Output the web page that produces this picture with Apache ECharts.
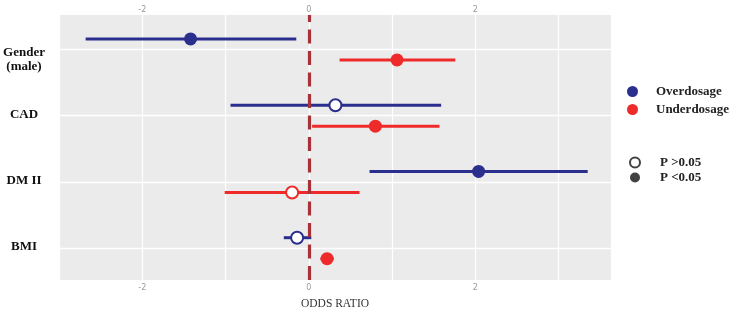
<!DOCTYPE html>
<html>
<head>
<meta charset="utf-8">
<script src="https://cdn.jsdelivr.net/npm/echarts@6/dist/echarts.min.js"></script>
<style>
    html, body { margin: 0; padding: 0; background: #ffffff; }
    #forestPlot { width: 735px; height: 312px; }
</style>
</head>
<body>
<div id="forestPlot"></div>
<script>
//  类别（从下到上）
const categories = ['BMI', 'DM II', 'CAD', 'Gender\n(male)'];
//  Overdosage：估计值、置信区间、是否显著
const overEst = [-0.14, 2.04, 0.32, -1.42];
const overLow = [-0.30, 0.73, -0.94, -2.68];
const overHigh = [0.03, 3.35, 1.59, -0.15];
const overSig = [false, true, false, true];
//  Underdosage
const underEst = [0.22, -0.20, 0.80, 1.06];
const underLow = [0.14, -1.01, 0.04, 0.37];
const underHigh = [0.30, 0.61, 1.57, 1.76];
const underSig = [true, false, true, true];
//  坐标轴刻度标签
const xTicks = [-2, 0, 2];

const blue = '#2A2E8C';
const red = '#EE2A2A';
const serif = '"Liberation Serif", "DejaVu Serif", serif';

function buildData(est, low, high, sig) {
    return est.map(function (v, i) {
        return [low[i], high[i], v, i + 1, sig[i] ? 1 : 0];
    });
}

//  画置信区间和点
function makeRender(color, offset) {
    return function (params, api) {
        const y = api.coord([0, api.value(3)])[1] + offset;
        const x0 = api.coord([api.value(0), 0])[0];
        const x1 = api.coord([api.value(1), 0])[0];
        const cx = api.coord([api.value(2), 0])[0];
        const filled = api.value(4) === 1;
        return {
            type: 'group',
            children: [
                {
                    type: 'line',
                    shape: {x1: x0, y1: y, x2: x1, y2: y},
                    style: {stroke: color, lineWidth: 3}
                },
                {
                    type: 'circle',
                    shape: {cx: cx, cy: y, r: filled ? 6.5 : 6},
                    style: {
                        fill: filled ? color : '#ffffff',
                        stroke: color,
                        lineWidth: filled ? 0 : 2
                    }
                }
            ]
        };
    };
}

const xAxisBase = {
    type: 'value',
    min: -3,
    max: 3.63,
    interval: 1,
    axisLine: {show: false},
    axisTick: {show: false},
    axisLabel: {
        color: '#9a9a9a',
        fontSize: 8,
        fontFamily: 'DejaVu Sans',
        formatter: function (v) {
            return xTicks.indexOf(v) >= 0 ? String(v) : '';
        }
    }
};

const option = {
    animation: false,
    backgroundColor: '#ffffff',
    grid: {
        left: 59,
        top: 15,
        width: 552,
        height: 265,
        outerBoundsMode: 'none',
        containLabel: false,
        show: true,
        backgroundColor: '#EBEBEB',
        borderWidth: 0
    },
    legend: [
        {
            data: ['Overdosage', 'Underdosage'],
            orient: 'vertical',
            left: 622,
            top: 80,
            icon: 'circle',
            itemWidth: 11,
            itemHeight: 11,
            itemGap: 5,
            selectedMode: false,
            textStyle: {
                fontFamily: serif,
                fontWeight: 'bold',
                fontSize: 13,
                color: '#222222',
                padding: [0, 0, 0, 13]
            }
        },
        {
            data: ['P >0.05', 'P <0.05'],
            orient: 'vertical',
            left: 624,
            top: 151,
            icon: 'circle',
            itemWidth: 10,
            itemHeight: 10,
            itemGap: 2,
            selectedMode: false,
            textStyle: {
                fontFamily: serif,
                fontWeight: 'bold',
                fontSize: 13,
                color: '#222222',
                padding: [0, 0, 0, 15]
            }
        }
    ],
    xAxis: [
        Object.assign({}, xAxisBase, {
            position: 'bottom',
            name: 'ODDS RATIO',
            nameLocation: 'middle',
            nameGap: 18,
            nameTextStyle: {
                fontFamily: serif,
                fontSize: 11.5,
                color: '#333333'
            },
            axisLabel: Object.assign({}, xAxisBase.axisLabel, {margin: 4}),
            splitLine: {lineStyle: {color: '#ffffff', width: 1.2}}
        }),
        Object.assign({}, xAxisBase, {
            position: 'top',
            axisLabel: Object.assign({}, xAxisBase.axisLabel, {margin: 1}),
            splitLine: {show: false}
        })
    ],
    yAxis: {
        type: 'value',
        min: 0.52,
        max: 4.52,
        interval: 0.5,
        axisLine: {show: false},
        axisTick: {show: false},
        splitLine: {show: false},
        axisLabel: {
            margin: 35,
            align: 'center',
            fontFamily: serif,
            fontWeight: 'bold',
            fontSize: 13,
            lineHeight: 14,
            color: '#111111',
            formatter: function (v) {
                const k = Math.round((v - 0.02) * 100) / 100;
                if (!Number.isInteger(k)) {
                    return '';
                }
                //  两行标签往下挪
                return k === 4 ? '{sp|}\n' + categories[k - 1] : categories[k - 1];
            },
            rich: {
                sp: {lineHeight: 24}
            }
        }
    },
    series: [
        {
            name: 'Overdosage',
            type: 'custom',
            renderItem: makeRender(blue, -10.5),
            itemStyle: {color: blue},
            encode: {x: [0, 1, 2], y: 3},
            data: buildData(overEst, overLow, overHigh, overSig),
            z: 3,
            //  横向网格线
            markLine: {
                silent: true,
                symbol: 'none',
                z: 1,
                label: {show: false},
                lineStyle: {color: '#ffffff', width: 1.3, type: 'solid'},
                data: categories.map(function (c, i) {
                    return {yAxis: i + 1};
                })
            }
        },
        {
            name: 'Underdosage',
            type: 'custom',
            renderItem: makeRender(red, 10.5),
            itemStyle: {color: red},
            encode: {x: [0, 1, 2], y: 3},
            data: buildData(underEst, underLow, underHigh, underSig),
            z: 3,
            //  零线
            markLine: {
                silent: true,
                symbol: 'none',
                z: 10,
                label: {show: false},
                lineStyle: {color: '#A8323A', width: 3.2, type: [14, 7.5]},
                data: [{xAxis: 0}]
            }
        },
        {
            name: 'P >0.05',
            type: 'scatter',
            data: [],
            itemStyle: {color: '#ffffff', borderColor: '#111111', borderWidth: 2}
        },
        {
            name: 'P <0.05',
            type: 'scatter',
            data: [],
            itemStyle: {color: '#111111'}
        }
    ]
};

const myChart = echarts.init(document.getElementById('forestPlot'));
myChart.setOption(option);
</script>
</body>
</html>
